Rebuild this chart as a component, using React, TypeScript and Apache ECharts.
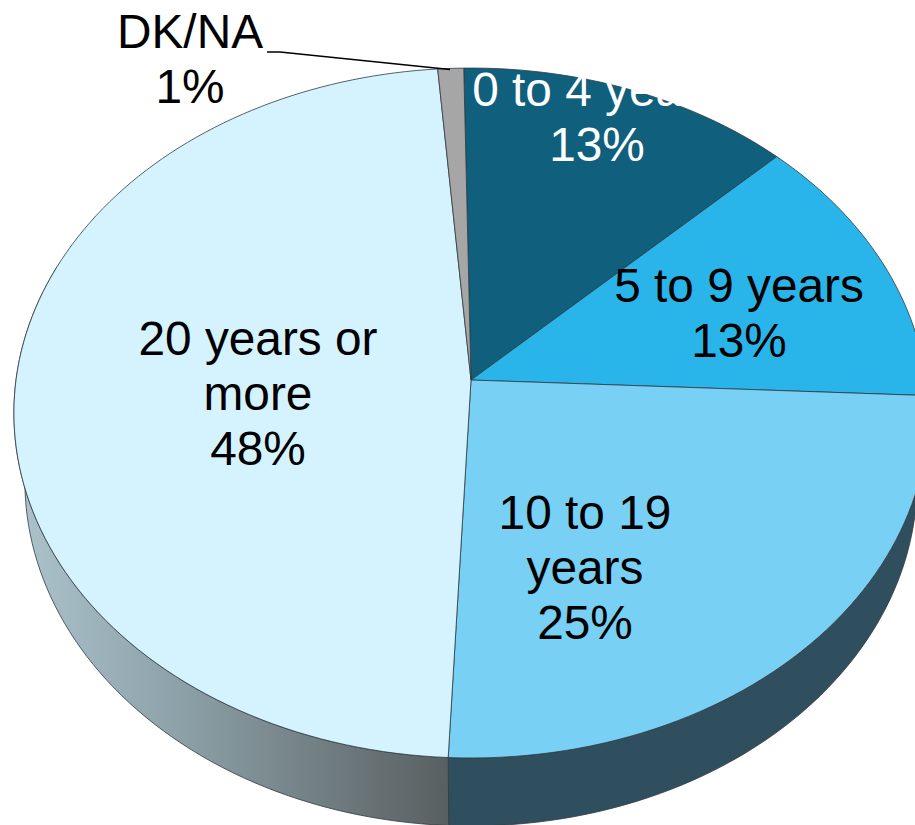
import React, { useEffect, useRef } from "react";
import * as echarts from "echarts";

const CATEGORIES = ["0 to 4 years", "5 to 9 years", "10 to 19\nyears", "20 years or\nmore", "DK/NA"];
const VALUES = [13, 13, 25, 48, 1];
const FACE_COLORS = ["#0f5f7d", "#2ab5ea", "#79d0f5", "#d5f3fe", "#a6a6a6"];
const LABEL_COLORS = ["#ffffff", "#000000", "#000000", "#000000", "#000000"];
const LABEL_X = [597, 739, 585, 258, 190];
const LABEL_Y = [117, 313, 567, 393.5, 59];

const START_DEG = -1;
const APEX_X = 471;
const APEX_Y = 380;
const SCALE_X = 455;
const SCALE_Y = 341.8;
const TILT = -0.0957;
const DEPTH = 68;
const LOWER_SCALE = 0.976;

const total = VALUES.reduce((a, b) => a + b, 0);
const cumulative = VALUES.reduce<number[]>((acc, v) => [...acc, acc[acc.length - 1] + v], [0]);
const angleAt = (c: number) => START_DEG + (c / total) * 360;

function topPoint(deg: number): number[] {
  const r = (deg * Math.PI) / 180;
  const x = Math.sin(r);
  const y = -Math.cos(r);
  const d = 1 + TILT * y;
  return [APEX_X + (SCALE_X * x) / d, APEX_Y + (SCALE_Y * y) / d];
}
function lowerPoint(deg: number): number[] {
  const [x, y] = topPoint(deg);
  return [APEX_X + (x - APEX_X) * LOWER_SCALE, y + DEPTH];
}
function arc(a: number, b: number, f: (d: number) => number[]): number[][] {
  const n = Math.max(2, Math.ceil(Math.abs(b - a) / 1.5));
  const pts: number[][] = [];
  for (let i = 0; i <= n; i++) pts.push(f(a + ((b - a) * i) / n));
  return pts;
}

const STROKE = "#2f3a40";

export default function App() {
  const ref = useRef<HTMLDivElement>(null);
  useEffect(() => {
    const chart = echarts.init(ref.current!, undefined, { renderer: "svg" });
    const leftSide = new echarts.graphic.LinearGradient(0, 0, 1, 0, [
      { offset: 0, color: "#aec4cd" },
      { offset: 0.4, color: "#8a9fa6" },
      { offset: 0.7, color: "#727f83" },
      { offset: 1, color: "#585f61" },
    ]);
    const sideFill = (i: number) => (i === 3 ? leftSide : "#2f4f5f");
    chart.setOption({
      animation: false,
      backgroundColor: "#ffffff",
      series: [
        {
          type: "custom",
          coordinateSystem: "none",
          silent: true,
          data: VALUES,
          renderItem: (params: any) => {
            const i = params.dataIndex;
            if (i !== 2 && i !== 3) return { type: "group", children: [] };
            const a = angleAt(cumulative[i]);
            const b = i === 3 ? 290 : angleAt(cumulative[i + 1]);
            return {
              type: "polygon",
              shape: { points: [...arc(a, b, topPoint), ...arc(b, a, lowerPoint)] },
              style: { fill: sideFill(i), stroke: STROKE, lineWidth: 0.8 },
            };
          },
        },
        {
          type: "custom",
          coordinateSystem: "none",
          silent: true,
          data: VALUES,
          renderItem: (params: any) => {
            const i = params.dataIndex;
            const a = angleAt(cumulative[i]);
            const b = angleAt(cumulative[i + 1]);
            return {
              type: "polygon",
              shape: { points: [[APEX_X, APEX_Y], ...arc(a, b, topPoint)] },
              style: { fill: FACE_COLORS[i], stroke: STROKE, lineWidth: 0.8, lineJoin: "round" },
            };
          },
        },
        {
          type: "custom",
          coordinateSystem: "none",
          silent: true,
          data: VALUES,
          renderItem: (params: any) => {
            const i = params.dataIndex;
            const children: any[] = [
              {
                type: "text",
                style: {
                  text: `${CATEGORIES[i]}\n${VALUES[i]}%`,
                  x: LABEL_X[i],
                  y: LABEL_Y[i],
                  fill: LABEL_COLORS[i],
                  font: '47.8px "Liberation Sans", Arial, sans-serif',
                  lineHeight: 55,
                  align: "center",
                  verticalAlign: "middle",
                },
              },
            ];
            if (i === VALUES.length - 1) {
              children.push({
                type: "polyline",
                shape: { points: [[267, 52], [280, 52], [450, 69.5]] },
                style: { stroke: "#000000", lineWidth: 1.6, fill: "none" },
              });
            }
            return { type: "group", children };
          },
        },
      ],
    });
    return () => chart.dispose();
  }, []);
  return <div ref={ref} style={{ position: "fixed", left: 0, top: 0, width: 915, height: 825 }} />;
}
